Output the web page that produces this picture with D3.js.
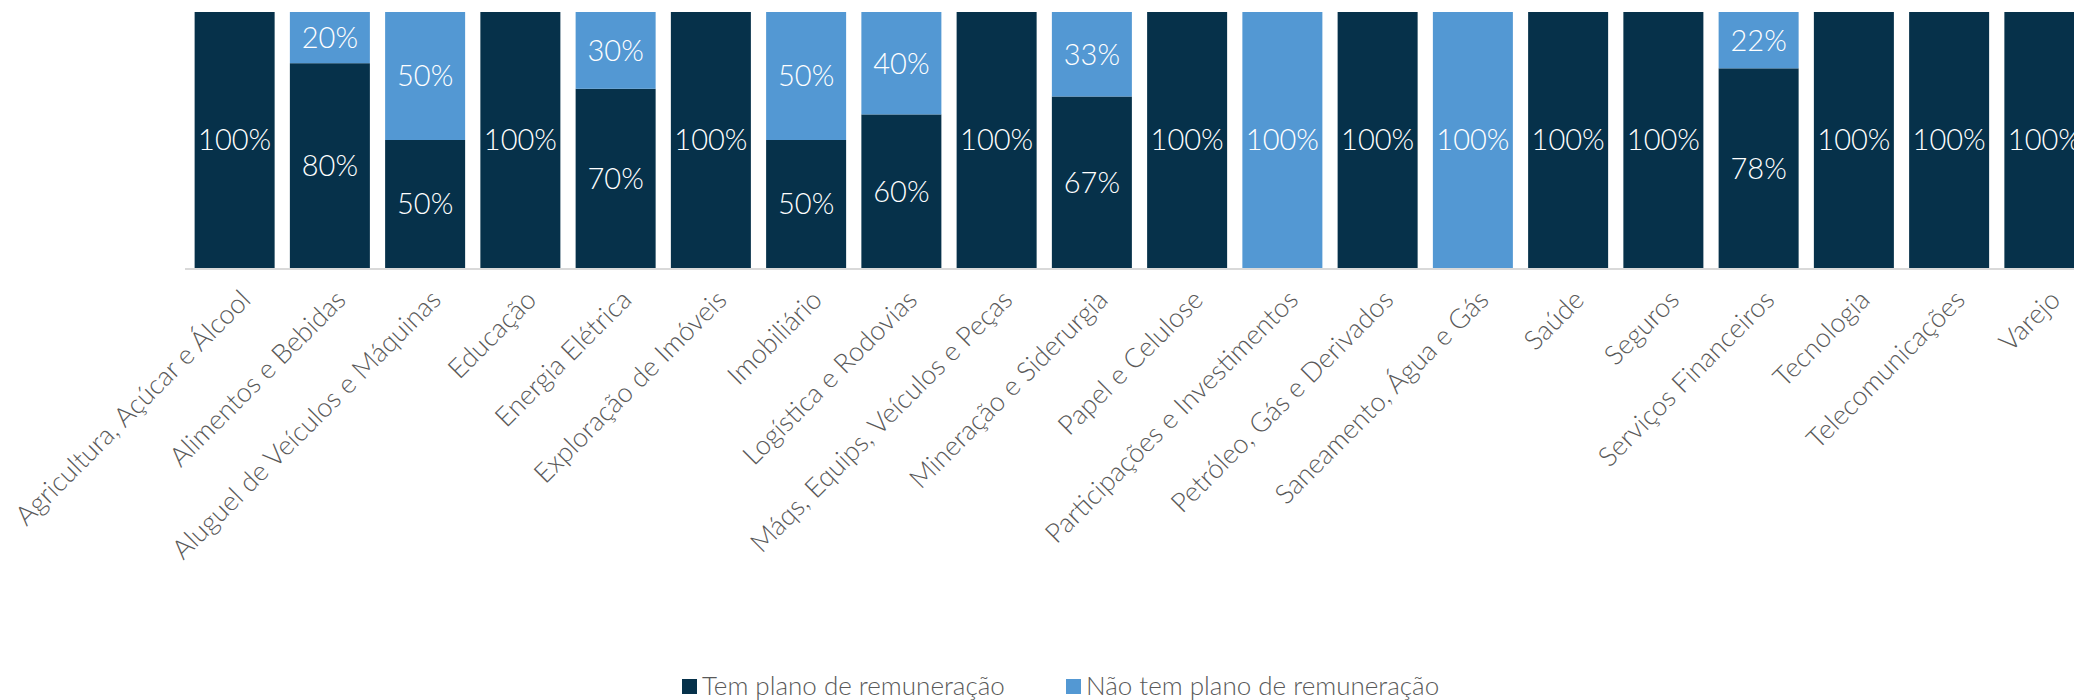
<!DOCTYPE html>
<html>
<head>
<meta charset="utf-8">
<script src="https://cdn.jsdelivr.net/npm/d3@7"></script>
<style>
  body { margin: 0; background: #fff; overflow: hidden; }
  svg { display: block; font-family: "Lato Light", Lato, "Open Sans", sans-serif; font-weight: 300; }
</style>
</head>
<body>
<script>
// categorias e percentuais
var sectors = [
  "Agricultura, Açúcar e Álcool", "Alimentos e Bebidas", "Aluguel de Veículos e Máquinas",
  "Educação", "Energia Elétrica", "Exploração de Imóveis", "Imobiliário",
  "Logística e Rodovias", "Máqs, Equips, Veículos e Peças", "Mineração e Siderurgia",
  "Papel e Celulose", "Participações e Investimentos", "Petróleo, Gás e Derivados",
  "Saneamento, Água e Gás", "Saúde", "Seguros", "Serviços Financeiros",
  "Tecnologia", "Telecomunicações", "Varejo"
];
var temPlano = [100, 80, 50, 100, 70, 100, 50, 60, 100, 67, 100, 0, 100, 0, 100, 100, 78, 100, 100, 100];
var naoTemPlano = [0, 20, 50, 0, 30, 0, 50, 40, 0, 33, 0, 100, 0, 100, 0, 0, 22, 0, 0, 0];
var seriesNames = ["Tem plano de remuneração", "Não tem plano de remuneração"];
var colors = ["#06314a", "#5398d3"];

var svgWidth = 2074;
var svgHeight = 700;

var svg = d3.select("body").append("svg")
  .attr("width", svgWidth)
  .attr("height", svgHeight);

var rows = sectors.map(function(s, i) {
  return { sector: s, tem: temPlano[i], nao: naoTemPlano[i] };
});
var stacked = d3.stack().keys(["tem", "nao"])(rows);

var x = d3.scaleBand()
  .domain(sectors)
  .range([187, 187 + 20 * 95.25])
  .paddingInner(0.16)
  .paddingOuter(0.08);

var y = d3.scaleLinear().domain([0, 100]).range([268, 12]);

// barras
var layers = svg.selectAll("g.layer")
  .data(stacked)
  .enter().append("g")
  .attr("class", "layer")
  .attr("fill", function(d, i) { return colors[i]; });

layers.selectAll("rect")
  .data(function(d) { return d; })
  .enter().append("rect")
  .attr("x", function(d) { return x(d.data.sector); })
  .attr("width", x.bandwidth())
  .attr("y", function(d) { return y(d[1]); })
  .attr("height", function(d) { return y(d[0]) - y(d[1]); });

// rótulos de valor
layers.selectAll("text")
  .data(function(d) { return d.filter(function(v) { return v[1] - v[0] > 0; }); })
  .enter().append("text")
  .attr("x", function(d) { return x(d.data.sector) + x.bandwidth() / 2; })
  .attr("y", function(d) { return (y(d[0]) + y(d[1])) / 2; })
  .attr("dy", "0.36em")
  .attr("text-anchor", "middle")
  .attr("fill", "#fff")
  .style("font-size", "29px")
  .text(function(d) { return (d[1] - d[0]) + "%"; });

// eixo x
svg.append("line")
  .attr("x1", 185).attr("x2", svgWidth)
  .attr("y1", 269).attr("y2", 269)
  .attr("stroke", "#d9d9d9")
  .attr("stroke-width", 2);

svg.append("g").selectAll("text")
  .data(sectors)
  .enter().append("text")
  .attr("transform", function(d) {
    return "translate(" + (x(d) + x.bandwidth() / 2 + 7) + ",291) rotate(-45)";
  })
  .attr("text-anchor", "end")
  .attr("dy", "0.55em")
  .attr("fill", "#595959")
  .style("font-size", "27px")
  .text(function(d) { return d; });

// legenda
var legend = svg.append("g").attr("transform", "translate(682,695)");
var legendX = [0, 384];
seriesNames.forEach(function(name, i) {
  var g = legend.append("g").attr("transform", "translate(" + legendX[i] + ",0)");
  g.append("rect")
    .attr("x", 0).attr("y", -16)
    .attr("width", 15).attr("height", 15)
    .attr("fill", colors[i]);
  g.append("text")
    .attr("x", 20).attr("y", 0)
    .attr("fill", "#595959")
    .style("font-size", "26px")
    .text(name);
});
</script>
</body>
</html>
